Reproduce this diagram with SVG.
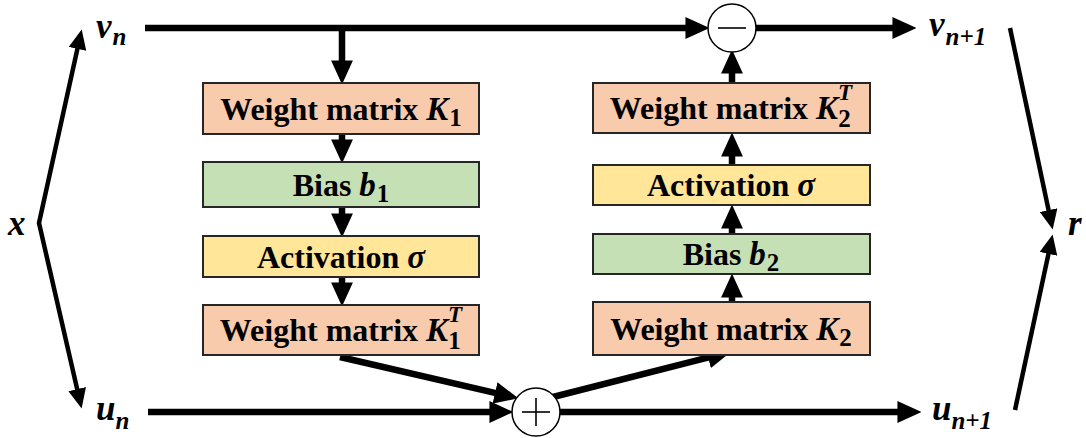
<svg xmlns="http://www.w3.org/2000/svg" width="1086" height="438" viewBox="0 0 1086 438">
  <defs>
    <!-- filled arrowheads; the tip sits 16 units past the line end -->
    <marker id="arrow" markerUnits="userSpaceOnUse" markerWidth="24" markerHeight="22" viewBox="0 0 22 20" refX="6" refY="10" orient="auto-start-reverse">
      <path d="M0,0 L22,10 L0,20 z" fill="#000"/>
    </marker>
    <marker id="arrowS" markerUnits="userSpaceOnUse" markerWidth="20" markerHeight="18" viewBox="0 0 22 20" refX="6" refY="10" orient="auto-start-reverse">
      <path d="M0,0 L22,10 L0,20 z" fill="#000"/>
    </marker>
    <style>
      .box { stroke: #262626; stroke-width: 2; }
      .wm { fill: #F8CBAD; }
      .bias { fill: #C5E0B4; }
      .act { fill: #FFE699; }
      .lbl { font-family: "Liberation Serif", "Times New Roman", serif; font-weight: bold; font-size: 32px; fill: #000; }
      .m { font-style: italic; font-size: 33px; }
      .s { font-style: normal; font-size: 25px; }
      .si { font-style: italic; font-size: 23px; }
      .var { font-family: "Liberation Serif", "Times New Roman", serif; font-weight: bold; font-style: italic; font-size: 35px; fill: #000; }
      .sub { font-size: 25px; }
      .line { stroke: #000; fill: none; stroke-width: 6.5; }
      .thin { stroke: #000; fill: none; stroke-width: 4.5; stroke-linejoin: miter; }
      .op { fill: #fff; stroke: #000; stroke-width: 1.5; }
      .opline { stroke: #000; stroke-width: 1.6; }
    </style>
  </defs>

  <!-- connectors -->
  <g id="connectors">
    <!-- v branch -->
    <line class="line" x1="145" y1="28" x2="692" y2="28" marker-end="url(#arrow)"/>
    <line class="line" x1="342" y1="25" x2="342" y2="67" marker-end="url(#arrow)"/>
    <line class="line" x1="756" y1="28" x2="899" y2="28" marker-end="url(#arrow)"/>
    <!-- left column -->
    <line class="line" x1="342" y1="134" x2="342" y2="146" marker-end="url(#arrow)"/>
    <line class="line" x1="342" y1="207" x2="342" y2="220" marker-end="url(#arrow)"/>
    <line class="line" x1="342" y1="277" x2="342" y2="289" marker-end="url(#arrow)"/>
    <!-- right column -->
    <line class="line" x1="732" y1="302" x2="732" y2="291" marker-end="url(#arrow)"/>
    <line class="line" x1="732" y1="234" x2="732" y2="222" marker-end="url(#arrow)"/>
    <line class="line" x1="732" y1="165" x2="732" y2="150" marker-end="url(#arrow)"/>
    <line class="line" x1="732" y1="83" x2="732" y2="67" marker-end="url(#arrow)"/>
    <!-- u branch -->
    <line class="line" x1="148" y1="412" x2="496" y2="412" marker-end="url(#arrow)"/>
    <line class="line" x1="560" y1="412" x2="904" y2="412" marker-end="url(#arrow)"/>
    <line class="line" x1="340" y1="357" x2="501.4" y2="394.4" marker-end="url(#arrow)"/>
    <line class="line" x1="553" y1="397" x2="714.5" y2="355.9" marker-end="url(#arrow)"/>
    <!-- split of x and merge into r -->
    <path class="thin" d="M78.6,43.6 L39,223 L78.4,394.4" marker-start="url(#arrowS)" marker-end="url(#arrowS)"/>
    <line class="thin" x1="1010" y1="28" x2="1049.7" y2="215.4" marker-end="url(#arrowS)"/>
    <line class="thin" x1="1015" y1="410" x2="1049.6" y2="248.6" marker-end="url(#arrowS)"/>
  </g>

  <!-- operators -->
  <g id="minus">
    <circle class="op" cx="732" cy="28" r="24"/>
    <line class="opline" x1="718" y1="28" x2="746" y2="28"/>
  </g>
  <g id="plus">
    <circle class="op" cx="536" cy="412" r="24"/>
    <line class="opline" x1="522" y1="412" x2="550" y2="412"/>
    <line class="opline" x1="536" y1="398" x2="536" y2="426"/>
  </g>

  <!-- left column -->
  <g id="weight-k1">
    <rect class="box wm" x="203" y="83" width="276" height="51"/>
    <text class="lbl" x="341" y="120" text-anchor="middle">Weight matrix <tspan class="m">K</tspan><tspan class="s" dx="1" dy="6">1</tspan></text>
  </g>
  <g id="bias-b1">
    <rect class="box bias" x="203" y="162" width="276" height="45"/>
    <text class="lbl" x="341" y="196" text-anchor="middle">Bias <tspan class="m">b</tspan><tspan class="s" dx="1" dy="6">1</tspan></text>
  </g>
  <g id="activation-1">
    <rect class="box act" x="203" y="236" width="276" height="41"/>
    <text class="lbl" x="341" y="268" text-anchor="middle">Activation <tspan class="m">σ</tspan></text>
  </g>
  <g id="weight-k1t">
    <rect class="box wm" x="203" y="305" width="276" height="50"/>
    <text class="lbl" x="341" y="341" text-anchor="middle">Weight matrix <tspan class="m">K</tspan><tspan class="si" dy="-19">T</tspan><tspan class="s" dx="-14" dy="27">1</tspan></text>
  </g>

  <!-- right column -->
  <g id="weight-k2t">
    <rect class="box wm" x="593" y="83" width="277" height="50"/>
    <text class="lbl" x="731" y="119" text-anchor="middle">Weight matrix <tspan class="m">K</tspan><tspan class="si" dy="-19">T</tspan><tspan class="s" dx="-14" dy="27">2</tspan></text>
  </g>
  <g id="activation-2">
    <rect class="box act" x="593" y="165" width="277" height="40"/>
    <text class="lbl" x="731" y="196" text-anchor="middle">Activation <tspan class="m">σ</tspan></text>
  </g>
  <g id="bias-b2">
    <rect class="box bias" x="593" y="234" width="277" height="40"/>
    <text class="lbl" x="731" y="265" text-anchor="middle">Bias <tspan class="m">b</tspan><tspan class="s" dx="1" dy="6">2</tspan></text>
  </g>
  <g id="weight-k2">
    <rect class="box wm" x="593" y="302" width="277" height="53"/>
    <text class="lbl" x="731" y="340" text-anchor="middle">Weight matrix <tspan class="m">K</tspan><tspan class="s" dx="1" dy="6">2</tspan></text>
  </g>

  <!-- variables -->
  <g id="x"><text class="var" x="8" y="235">x</text></g>
  <g id="vn"><text class="var" x="96" y="38">v<tspan class="sub" dx="1" dy="7">n</tspan></text></g>
  <g id="un"><text class="var" x="96" y="420">u<tspan class="sub" dy="9">n</tspan></text></g>
  <g id="vn1"><text class="var" x="929" y="36">v<tspan class="sub" dx="1" dy="9">n+1</tspan></text></g>
  <g id="un1"><text class="var" x="932" y="420">u<tspan class="sub" dy="9">n+1</tspan></text></g>
  <g id="r"><text class="var" x="1068" y="235">r</text></g>
</svg>
